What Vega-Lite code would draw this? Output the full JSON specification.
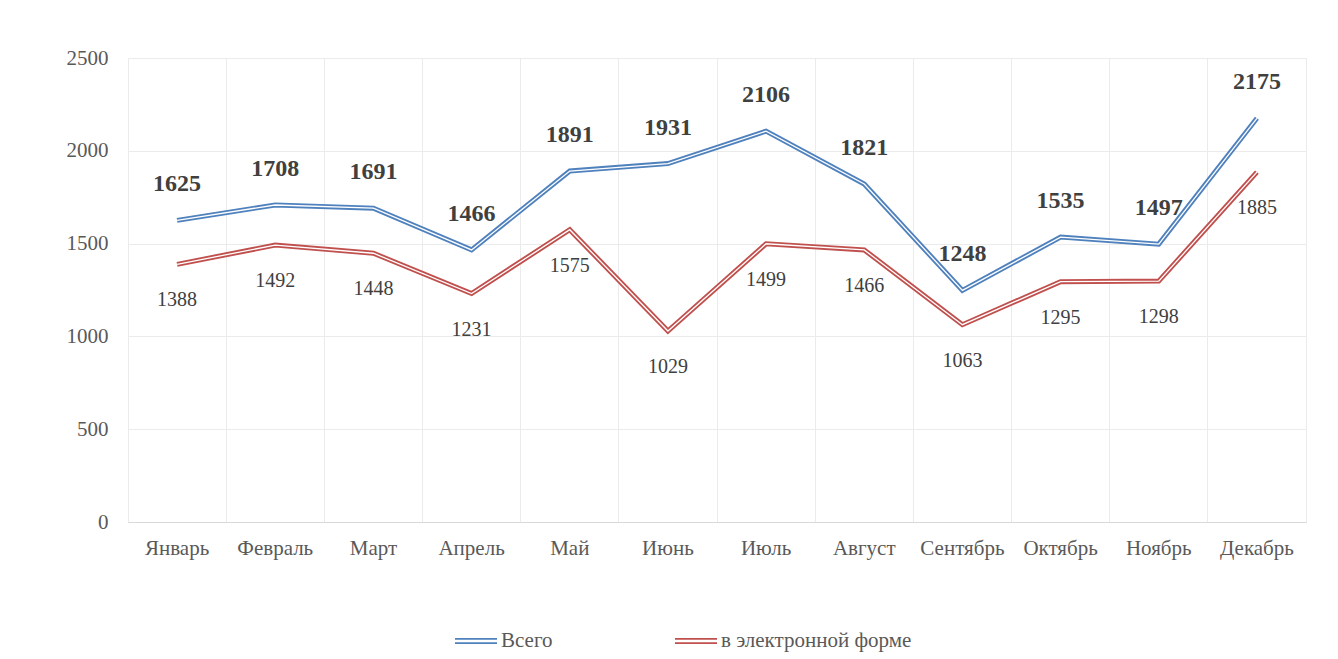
{
  "$schema": "https://vega.github.io/schema/vega-lite/v6.json",
  "width": 1178,
  "height": 464,
  "autosize": {"type": "none"},
  "padding": {"left": 128, "top": 58, "right": 32, "bottom": 137},
  "background": "white",
  "config": {
    "font": "Liberation Serif",
    "view": {"stroke": "#ebebeb", "strokeWidth": 1},
    "style": {"guide-label": {"font": "Liberation Serif"}},
    "axis": {"labelFont": "Liberation Serif", "labelColor": "#595959", "labelFontSize": 21},
    "legend": {"labelFont": "Liberation Serif", "labelFontSize": 21, "labelColor": "#595959"}
  },
  "data": {
    "values": [
      {"month": "Январь", "series": "Всего", "value": 1625},
      {"month": "Февраль", "series": "Всего", "value": 1708},
      {"month": "Март", "series": "Всего", "value": 1691},
      {"month": "Апрель", "series": "Всего", "value": 1466},
      {"month": "Май", "series": "Всего", "value": 1891},
      {"month": "Июнь", "series": "Всего", "value": 1931},
      {"month": "Июль", "series": "Всего", "value": 2106},
      {"month": "Август", "series": "Всего", "value": 1821},
      {"month": "Сентябрь", "series": "Всего", "value": 1248},
      {"month": "Октябрь", "series": "Всего", "value": 1535},
      {"month": "Ноябрь", "series": "Всего", "value": 1497},
      {"month": "Декабрь", "series": "Всего", "value": 2175},
      {"month": "Январь", "series": "в электронной форме", "value": 1388},
      {"month": "Февраль", "series": "в электронной форме", "value": 1492},
      {"month": "Март", "series": "в электронной форме", "value": 1448},
      {"month": "Апрель", "series": "в электронной форме", "value": 1231},
      {"month": "Май", "series": "в электронной форме", "value": 1575},
      {"month": "Июнь", "series": "в электронной форме", "value": 1029},
      {"month": "Июль", "series": "в электронной форме", "value": 1499},
      {"month": "Август", "series": "в электронной форме", "value": 1466},
      {"month": "Сентябрь", "series": "в электронной форме", "value": 1063},
      {"month": "Октябрь", "series": "в электронной форме", "value": 1295},
      {"month": "Ноябрь", "series": "в электронной форме", "value": 1298},
      {"month": "Декабрь", "series": "в электронной форме", "value": 1885}
    ]
  },
  "encoding": {
    "x": {
      "field": "month", "type": "nominal", "sort": null,
      "scale": {"type": "band", "paddingInner": 0, "paddingOuter": 0},
      "axis": {"title": null, "labelAngle": 0, "bandPosition": 0, "grid": true, "gridColor": "#ebebeb", "ticks": false, "domain": true, "domainColor": "#d9d9d9", "labelPadding": 26, "labelBaseline": "middle"}
    },
    "y": {
      "field": "value", "type": "quantitative",
      "scale": {"domain": [0, 2500]},
      "axis": {"title": null, "values": [0, 500, 1000, 1500, 2000, 2500], "format": "d", "grid": true, "gridColor": "#ebebeb", "ticks": false, "domain": false, "labelPadding": 20}
    }
  },
  "layer": [
    {
      "mark": {"type": "line", "strokeWidth": 5, "strokeJoin": "miter"},
      "encoding": {
        "color": {
          "field": "series", "type": "nominal", "sort": null,
          "scale": {"domain": ["Всего", "в электронной форме"], "range": ["#4f81bd", "#c0504d"]},
          "legend": {
            "title": null, "orient": "none", "direction": "horizontal", "legendX": 326, "legendY": 561,
            "symbolType": "M-1,-0.1H1M-1,0.1H1", "symbolSize": 1764, "symbolStrokeWidth": 1.8,
            "labelFont": "Liberation Serif", "labelFontSize": 21, "labelColor": "#595959", "labelLimit": 400,
            "labelOffset": 3, "columnPadding": 118, "padding": 0,
            "encode": {"labels": {"update": {"font": {"value": "Liberation Serif"}}}}
          }
        }
      }
    },
    {
      "mark": {"type": "line", "strokeWidth": 1.3, "strokeJoin": "miter", "color": "white"},
      "encoding": {"detail": {"field": "series"}}
    },
    {
      "transform": [{"filter": "datum.series === 'Всего'"}],
      "mark": {"type": "text", "dy": -36, "fontWeight": "bold", "fontSize": 24, "color": "#404040", "font": "Liberation Serif"},
      "encoding": {"text": {"field": "value", "type": "quantitative"}}
    },
    {
      "transform": [{"filter": "datum.series !== 'Всего'"}],
      "mark": {"type": "text", "dy": 36, "fontSize": 20, "color": "#404040", "font": "Liberation Serif"},
      "encoding": {"text": {"field": "value", "type": "quantitative"}}
    }
  ]
}
